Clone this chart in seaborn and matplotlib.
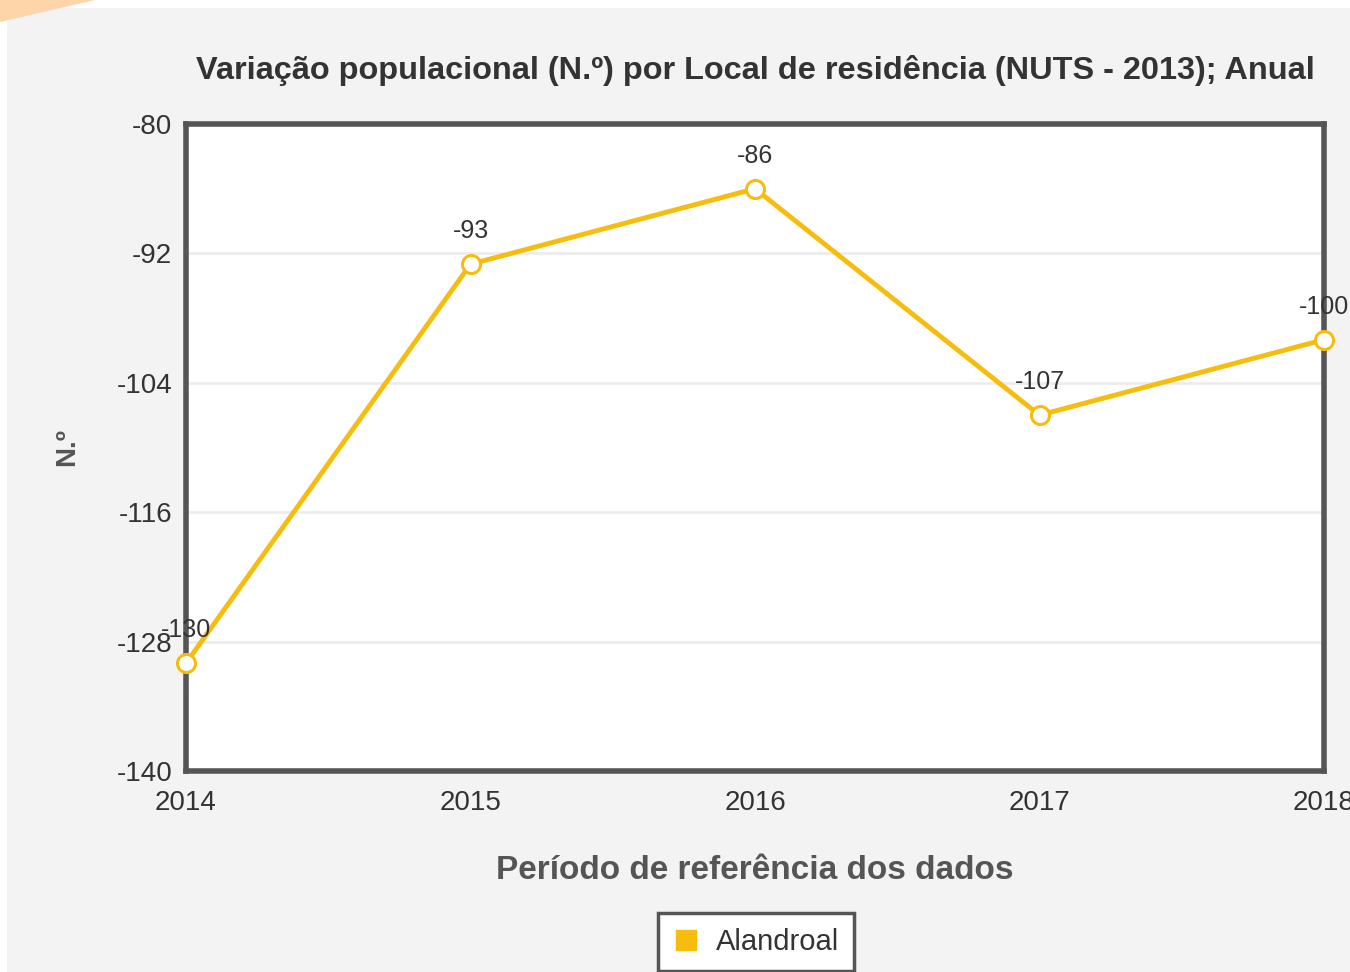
import matplotlib.pyplot as plt
import matplotlib.patches as mpatches
from matplotlib.lines import Line2D
import seaborn as sns
import pandas as pd

# Chart data
years = [2014, 2015, 2016, 2017, 2018]
values = [-130, -93, -86, -107, -100]
series_name = 'Alandroal'
y_ticks = [-140, -128, -116, -104, -92, -80]

df = pd.DataFrame({'ano': years, 'valor': values})

sns.set_style('white')
plt.rcParams['font.family'] = ['Liberation Sans', 'DejaVu Sans']
plt.rcParams['axes.unicode_minus'] = False

line_color = '#f6bd0f'
text_color = '#333333'

fig = plt.figure(figsize=(13.5, 9.72), dpi=100)
fig.patch.set_facecolor('white')
# gray card behind the chart
fig.patches.append(mpatches.Rectangle((7 / 1350, 0), 1, 1 - 8 / 972, transform=fig.transFigure,
                                      facecolor='#f3f3f3', edgecolor='none', zorder=-10))
fig.patches.append(mpatches.Polygon([(0, 1), (95 / 1350, 1), (0, 1 - 22 / 972)], closed=True,
                                    transform=fig.transFigure, facecolor='#fdd5a8',
                                    edgecolor='none', zorder=-9))

ax = fig.add_axes([186 / 1350, 1 - 771 / 972, (1324 - 186) / 1350, (771 - 124) / 972])
ax.set_facecolor('white')

sns.lineplot(data=df, x='ano', y='valor', ax=ax, color=line_color, linewidth=3.5,
             marker='o', markersize=13, markerfacecolor='white', markeredgecolor=line_color,
             markeredgewidth=2.2, clip_on=False, zorder=5)

for x, y in zip(years, values):
    ax.annotate(str(y), (x, y), xytext=(0, 15), textcoords='offset points', ha='center',
                va='bottom', fontsize=18, color=text_color, zorder=6)

ax.set_xlim(2014, 2018)
ax.set_ylim(-140, -80)
ax.set_xticks(years)
ax.set_xticklabels([str(y) for y in years])
ax.set_yticks(y_ticks)
ax.tick_params(axis='both', labelsize=20, colors=text_color, length=0)
ax.tick_params(axis='x', pad=14)
ax.tick_params(axis='y', pad=10)
ax.grid(axis='y', color='#ececec', linewidth=2)
ax.set_axisbelow(True)
for s in ax.spines.values():
    s.set_color('#555555')
    s.set_linewidth(4)
    s.set_visible(True)

ax.set_xlabel('Período de referência dos dados', fontsize=24, fontweight='bold',
              color='#555555', labelpad=28)
ax.set_ylabel('N.º', fontsize=20, fontweight='bold', color='#555555', labelpad=26)

fig.text(755 / 1350, 1 - 70 / 972,
         'Variação populacional (N.º) por Local de residência (NUTS - 2013); Anual',
         ha='center', va='center', fontsize=23.4, fontweight='bold', color=text_color)

handle = Line2D([], [], marker='s', linestyle='none', markersize=14,
                markerfacecolor=line_color, markeredgecolor=line_color)
leg = fig.legend([handle], [series_name], loc='center', bbox_to_anchor=(756 / 1350, 1 - 942 / 972),
                 fontsize=21, frameon=True, fancybox=False, handletextpad=0.6,
                 borderpad=0.5, handlelength=0.9)
leg.get_frame().set_edgecolor('#555555')
leg.get_frame().set_linewidth(2.5)
leg.get_frame().set_facecolor('white')
leg.get_frame().set_alpha(1)
for t in leg.get_texts():
    t.set_color(text_color)

plt.savefig('out.png', dpi=100)
plt.close()
